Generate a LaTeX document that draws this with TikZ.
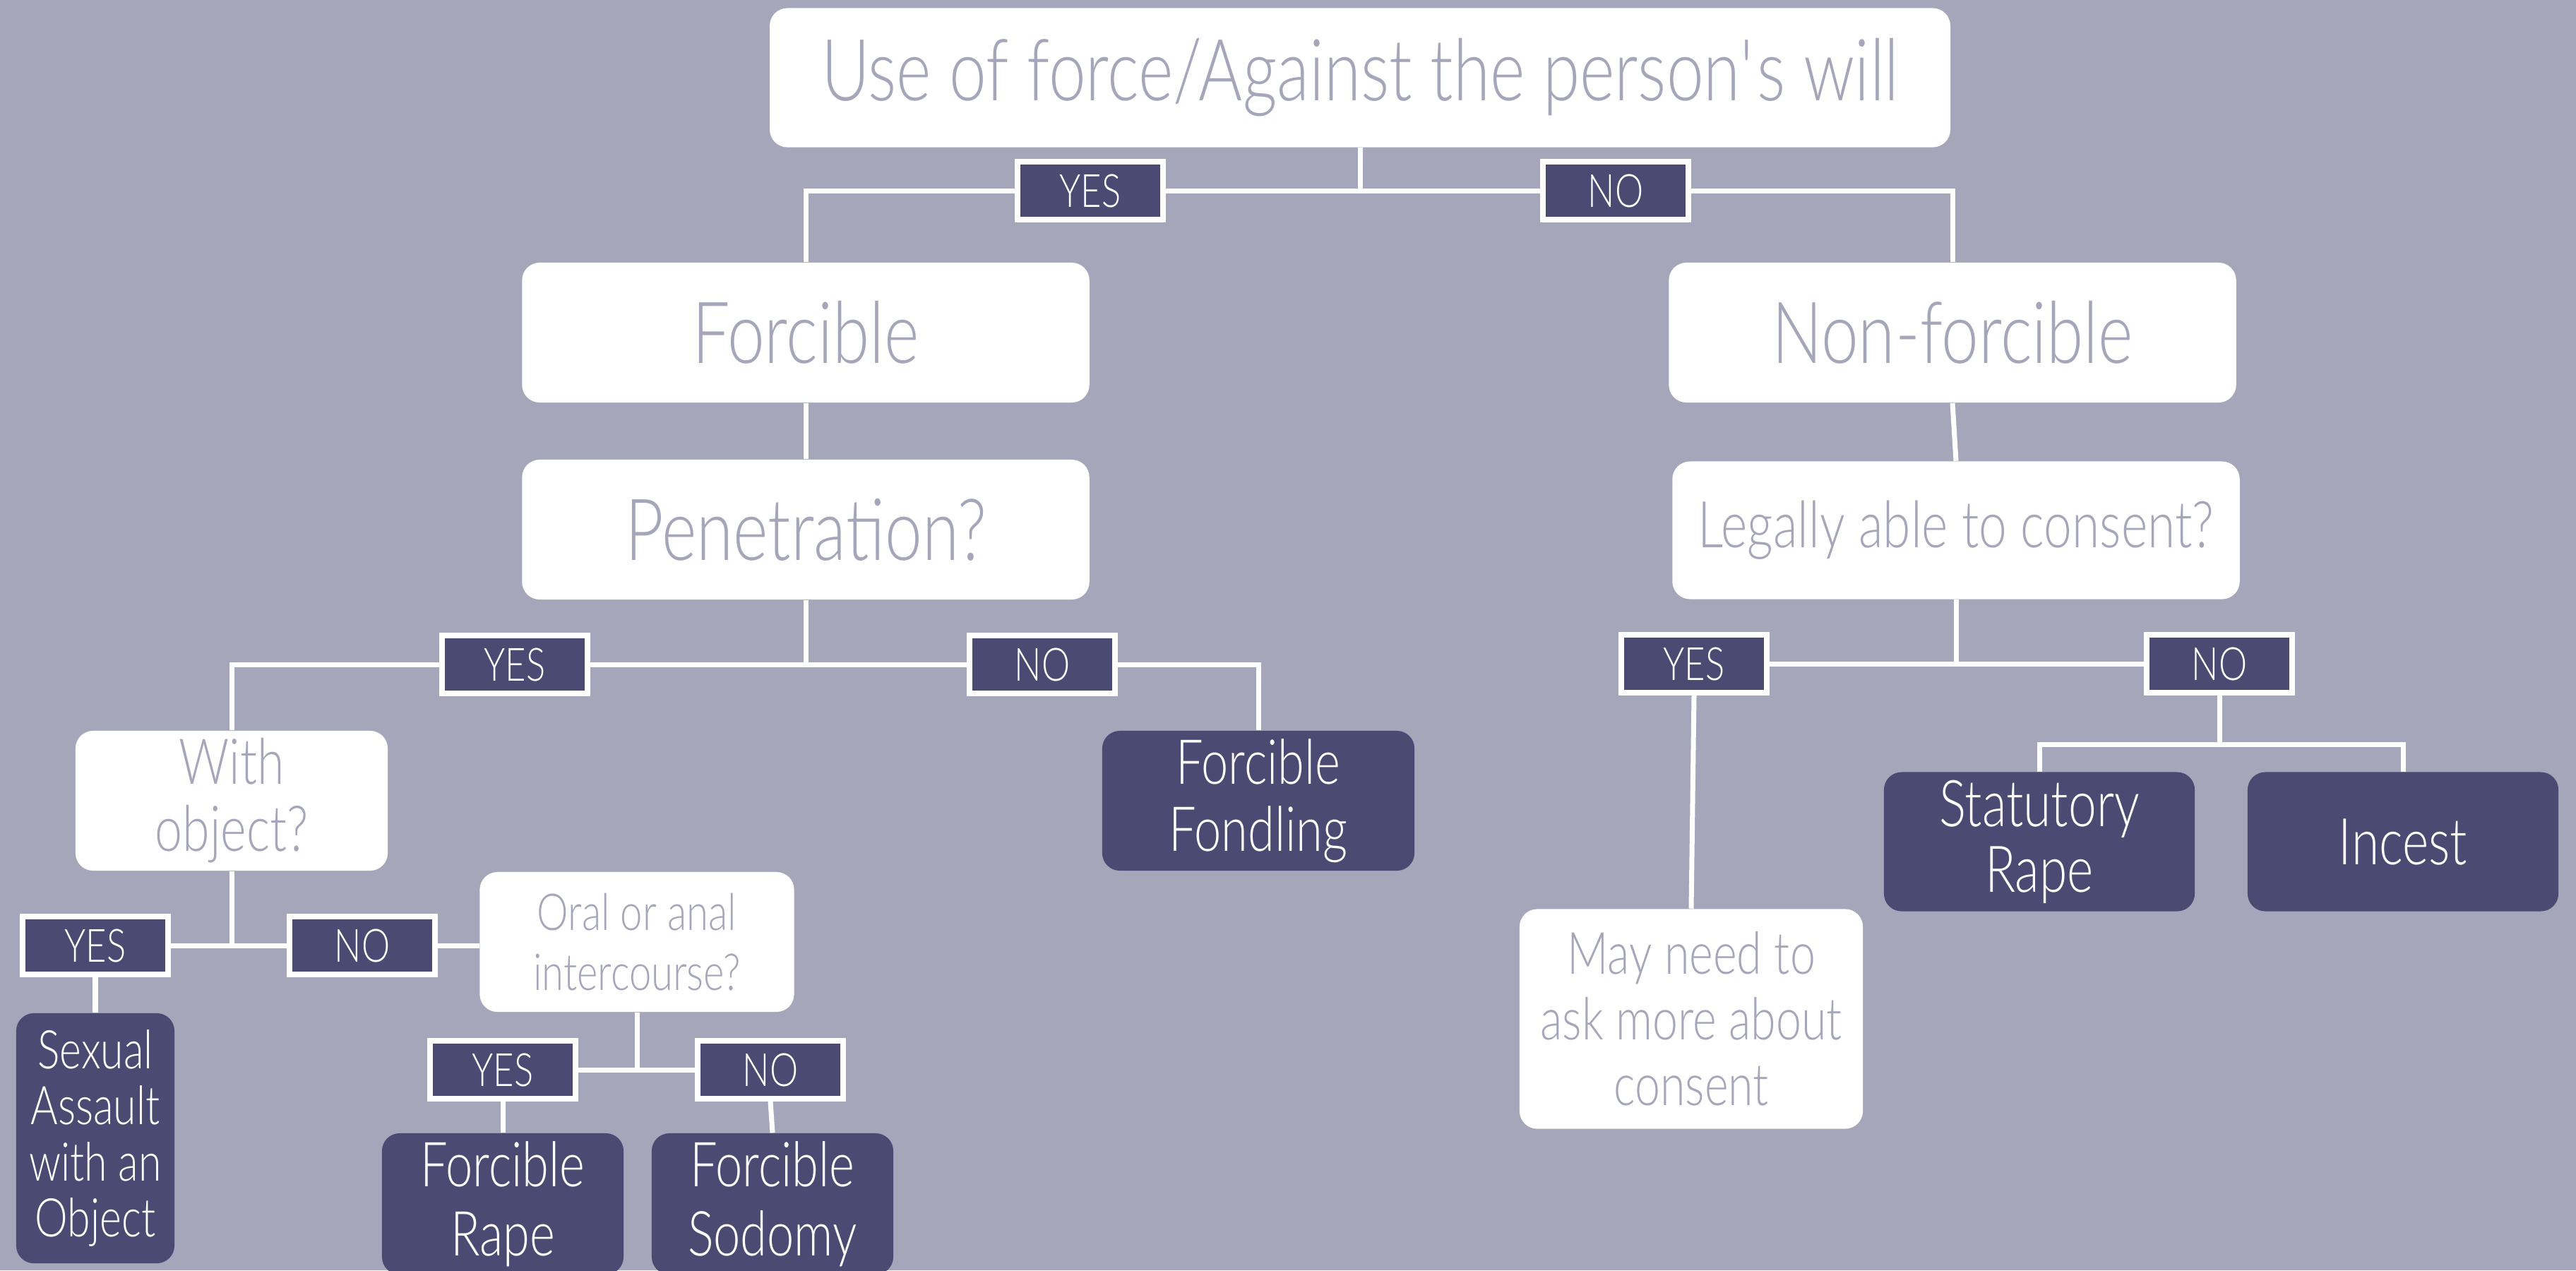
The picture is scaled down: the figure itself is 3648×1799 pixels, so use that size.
\documentclass[tikz,border=0pt]{standalone}
\usepackage{fontspec}
\setmainfont{Lato}[UprightFont=* Light, FakeStretch=0.78]
\usetikzlibrary{positioning,calc}

\definecolor{bgcol}{HTML}{A5A6BA}
\definecolor{darkcol}{HTML}{4A4A73}

\tikzset{
    question/.style={fill=white, text=bgcol, rounded corners=0.25cm, align=center, inner sep=0pt},
    outcome/.style={fill=darkcol, text=white, rounded corners=0.25cm, align=center, inner sep=0pt},
    answer/.style={fill=darkcol, draw=white, line width=0.08cm, text=white, inner sep=0pt,
        minimum width=2.05cm, minimum height=0.82cm, font=\fontsize{18.5}{20}\selectfont},
    link/.style={draw=white, line width=0.07cm},
}

\newcommand{\bigq}{\fontsize{34.5}{38}\selectfont}

\begin{document}
\begin{tikzpicture}[x=0.01cm, y=-0.01cm]

    % background
    \fill[bgcol] (0,0) rectangle (3648,1799);
    \useasboundingbox (0,0) rectangle (3648,1799);

    % --- top level ---
    \node[question, minimum width=16.71cm, minimum height=1.97cm, font=\bigq] (force) at (1926,110) {Use of force/Against the person\textquotesingle s will};
    \node[answer] (yesA) at (1544,270) {YES};
    \node[answer] (noA) at (2288,270) {NO};

    \node[question, minimum width=8.03cm, minimum height=1.98cm, font=\bigq] (forcible) at (1141,471) {Forcible};
    \node[question, minimum width=8.03cm, minimum height=1.98cm, font=\bigq] (nonforc) at (2765,471) {Non-forcible};

    \node[question, minimum width=8.03cm, minimum height=1.98cm, font=\bigq] (penet) at (1141,750) {Penetration?};
    \node[question, minimum width=8.03cm, minimum height=1.95cm, font=\fontsize{26}{28}\selectfont] (legal) at (2770,751) {Legally able to consent?};

    % --- forcible branch ---
    \node[answer] (yesB) at (729,941) {YES};
    \node[answer] (noB) at (1476,941) {NO};

    \node[question, minimum width=4.42cm, minimum height=1.98cm, font=\fontsize{25.5}{27}\selectfont] (withobj) at (328,1134) {With\\object?};
    \node[outcome, minimum width=4.42cm, minimum height=1.98cm, font=\fontsize{25}{27}\selectfont] (fondling) at (1782,1134) {Forcible\\Fondling};

    \node[answer] (yesC) at (135,1339) {YES};
    \node[answer] (noC) at (513,1339) {NO};
    \node[question, minimum width=4.45cm, minimum height=1.98cm, font=\fontsize{20.5}{24}\selectfont] (oral) at (902,1334) {Oral or anal\\intercourse?};

    \node[outcome, minimum width=2.24cm, minimum height=3.54cm, font=\fontsize{21.5}{22.5}\selectfont] (objassault) at (135,1612) {Sexual\\Assault\\with an\\Object};

    \node[answer] (yesD) at (712,1515) {YES};
    \node[answer] (noD) at (1091,1515) {NO};
    \node[outcome, minimum width=3.42cm, minimum height=2.0cm, font=\fontsize{25}{28}\selectfont] (rape) at (712,1705) {Forcible\\Rape};
    \node[outcome, minimum width=3.42cm, minimum height=2.0cm, font=\fontsize{25}{28}\selectfont] (sodomy) at (1094,1705) {Forcible\\Sodomy};

    % --- non-forcible branch ---
    \node[answer] (yesE) at (2399,940) {YES};
    \node[answer] (noE) at (3143,940) {NO};
    \node[question, minimum width=4.86cm, minimum height=3.11cm, font=\fontsize{23.5}{26.5}\selectfont] (askmore) at (2395,1443) {May need to\\ask more about\\consent};
    \node[outcome, minimum width=4.40cm, minimum height=1.97cm, font=\fontsize{26}{26.5}\selectfont] (statutory) at (2888,1192) {Statutory\\Rape};
    \node[outcome, minimum width=4.40cm, minimum height=1.97cm, font=\fontsize{26}{26.5}\selectfont] (incest) at (3403,1192) {Incest};
    \coordinate (splitE) at (3143,1054);

    % --- connectors ---
    \draw[link] (force.south) -- (force.south |- yesA.center);
    \draw[link] (forcible.north) |- (yesA.west);
    \draw[link] (yesA.east) -- (noA.west);
    \draw[link] (noA.east) -| (nonforc.north);
    \draw[link] (forcible.south) -- (penet.north);
    \draw[link] (nonforc.south) -- (legal.north);

    \draw[link] (penet.south) -- (penet.south |- yesB.center);
    \draw[link] (withobj.north) |- (yesB.west);
    \draw[link] (yesB.east) -- (noB.west);
    \draw[link] (noB.east) -| (fondling.north);

    \draw[link] (withobj.south) -- (withobj.south |- yesC.center);
    \draw[link] (yesC.east) -- (noC.west);
    \draw[link] (noC.east) -- (noC.east -| oral.west);
    \draw[link] (yesC.south) -- (objassault.north);

    \draw[link] (oral.south) -- (oral.south |- yesD.center);
    \draw[link] (yesD.east) -- (noD.west);
    \draw[link] (yesD.south) -- (rape.north);
    \draw[link] (noD.south) -- (sodomy.north);

    \draw[link] (legal.south) -- (legal.south |- yesE.center);
    \draw[link] (yesE.east) -- (noE.west);
    \draw[link] (yesE.south) -- (askmore.north);
    \draw[link] (noE.south) -- (splitE);
    \draw[link] (statutory.north) |- (splitE) -| (incest.north);

\end{tikzpicture}
\end{document}
